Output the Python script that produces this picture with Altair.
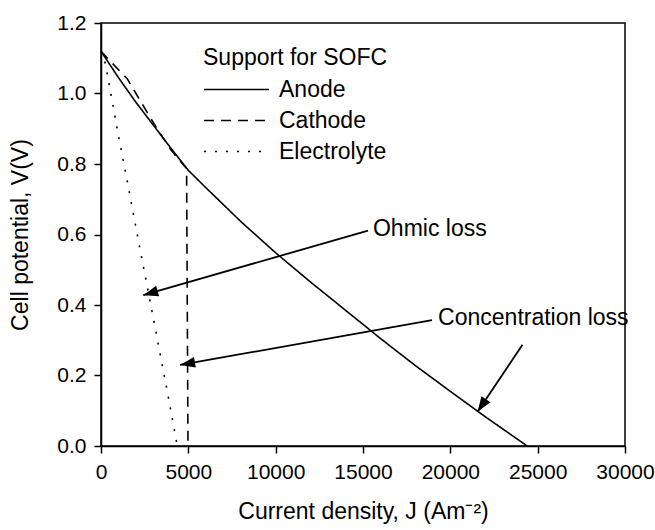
import math
import altair as alt
import pandas as pd

# ---------------- data ----------------
series_names = ["Anode", "Cathode", "Electrolyte"]

anode_j = [0, 1000, 2000, 3000, 4000, 5000, 6000, 8000, 10000, 12000, 14000,
           16000, 18000, 20000, 22000, 24400]
anode_v = [1.12, 1.045, 0.975, 0.91, 0.845, 0.782, 0.733, 0.637, 0.548, 0.465,
           0.385, 0.305, 0.228, 0.155, 0.083, 0.0]

cathode_j = [0, 600, 1500, 2300, 3200, 4000, 4500, 4900, 4980]
cathode_v = [1.12, 1.088, 1.042, 0.975, 0.901, 0.84, 0.81, 0.787, 0.0]

electrolyte_j = [0, 250, 600, 1000, 1450, 2150, 2870, 3850, 4350]
electrolyte_v = [1.12, 1.085, 0.99, 0.88, 0.765, 0.58, 0.395, 0.14, 0.005]

x_ticks = [0, 5000, 10000, 15000, 20000, 25000, 30000]
y_ticks = [0.0, 0.2, 0.4, 0.6, 0.8, 1.0, 1.2]

annot_labels = ["Ohmic loss", "Concentration loss"]
annot_label_j = [15570, 19300]
annot_label_v = [0.615, 0.362]

arrow_start_j = [15290, 18950, 24130]
arrow_start_v = [0.611, 0.357, 0.287]
arrow_tip_j = [2420, 4530, 21560]
arrow_tip_v = [0.428, 0.230, 0.097]

# ---------------- layout ----------------
W, H = 524, 423
X_MAX, Y_MAX = 30000, 1.2
FONT = "Liberation Sans"
FS_TICK = 21
FS_TEXT = 23

rows = []
for name, js, vs in [("Anode", anode_j, anode_v),
                     ("Cathode", cathode_j, cathode_v),
                     ("Electrolyte", electrolyte_j, electrolyte_v)]:
    for i, (j, v) in enumerate(zip(js, vs)):
        rows.append({"series": name, "J": j, "V": v, "order": i})
curves_df = pd.DataFrame(rows)

sx = W / X_MAX
sy = H / Y_MAX
arrows = []
for j0, v0, j1, v1 in zip(arrow_start_j, arrow_start_v, arrow_tip_j, arrow_tip_v):
    dx = (j1 - j0) * sx
    dy = -(v1 - v0) * sy
    ang = math.degrees(math.atan2(dx, -dy)) % 360
    arrows.append({"j0": j0, "v0": v0, "j1": j1, "v1": v1, "angle": ang})
arrows_df = pd.DataFrame(arrows)

labels_df = pd.DataFrame({"text": annot_labels, "J": annot_label_j, "V": annot_label_v})

x_scale = alt.Scale(domain=[0, X_MAX], nice=False)
y_scale = alt.Scale(domain=[0, Y_MAX], nice=False)

x_axis = alt.Axis(values=x_ticks, format="d", title="Current density, J (Am\u207b\u00b2)",
                  tickSize=7, labelPadding=8, titlePadding=18, labelOverlap=False,
                  labelFlush=False)
y_axis = alt.Axis(values=y_ticks, format=".1f", title="Cell potential, V(V)",
                  tickSize=7, labelPadding=8, titlePadding=24, labelOverlap=False,
                  labelFlush=False)

curves = alt.Chart(curves_df).mark_line(color="black", strokeWidth=1.6).encode(
    x=alt.X("J:Q", scale=x_scale, axis=x_axis),
    y=alt.Y("V:Q", scale=y_scale, axis=y_axis),
    order="order:Q",
    strokeDash=alt.StrokeDash(
        "series:N",
        scale=alt.Scale(domain=series_names, range=[[1, 0], [10, 7], [2, 9]]),
        legend=alt.Legend(
            title="Support for SOFC", orient="none", legendX=102, legendY=24,
            titleFontSize=FS_TEXT, titleFontWeight="normal", titleColor="black", titleFont=FONT,
            titleLimit=0, labelLimit=0,
            labelFontSize=FS_TEXT, labelColor="black", labelFont=FONT,
            symbolType="stroke", symbolSize=4225, symbolStrokeWidth=1.6,
            symbolStrokeColor="black", clipHeight=29, rowPadding=2,
            titlePadding=5, labelOffset=9, padding=0,
        ),
    ),
)

rules = alt.Chart(arrows_df).mark_rule(color="black", strokeWidth=1.8).encode(
    x=alt.X("j0:Q", scale=x_scale), y=alt.Y("v0:Q", scale=y_scale),
    x2="j1:Q", y2="v1:Q",
)

heads = alt.Chart(arrows_df).mark_point(
    shape="M0,0L-0.72,2L0.72,2Z", filled=True, color="black", opacity=1, size=225
).encode(
    x=alt.X("j1:Q", scale=x_scale), y=alt.Y("v1:Q", scale=y_scale),
    angle=alt.Angle("angle:Q", scale=None),
)

texts = alt.Chart(labels_df).mark_text(
    align="left", baseline="middle", font=FONT, fontSize=FS_TEXT, color="black"
).encode(
    x=alt.X("J:Q", scale=x_scale), y=alt.Y("V:Q", scale=y_scale), text="text:N",
)

chart = alt.layer(curves, rules, heads, texts).properties(
    width=W, height=H,
    autosize=alt.AutoSizeParams(type="none"),
    padding={"left": 101, "top": 23, "right": 30, "bottom": 84},
).configure_view(
    stroke="black", strokeWidth=1.5,
).configure_axis(
    grid=False, domainColor="black", domainWidth=1.5, tickColor="black", tickWidth=1.5,
    labelColor="black", labelFont=FONT, labelFontSize=FS_TICK,
    titleColor="black", titleFont=FONT, titleFontSize=FS_TEXT, titleFontWeight="normal",
)

chart.save("out.html", embed_options={"renderer": "svg", "actions": False})
